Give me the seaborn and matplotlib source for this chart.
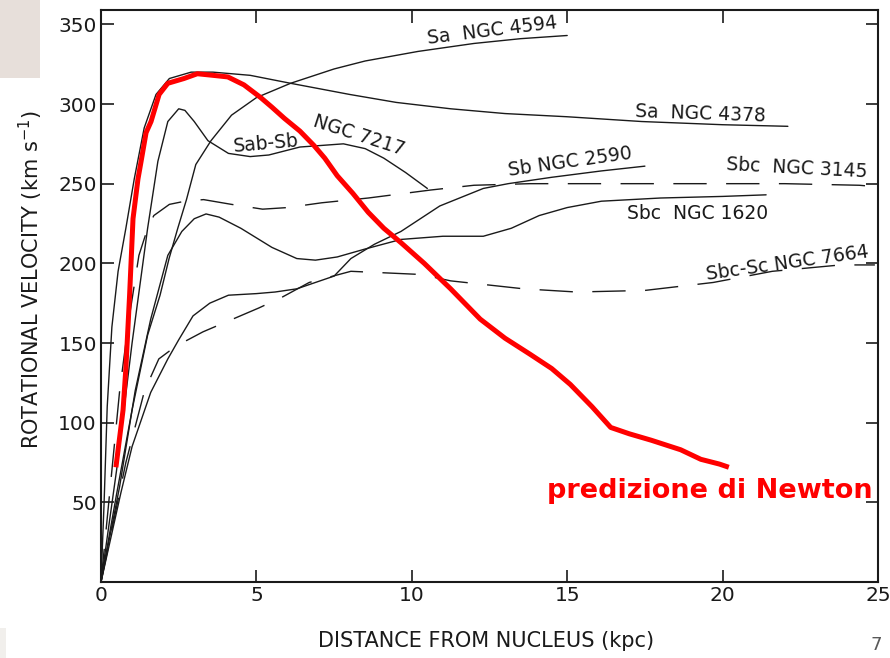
import matplotlib
matplotlib.use("Agg")
import matplotlib.pyplot as plt
import matplotlib.patches as mpatches
import seaborn as sns
import numpy as np

# ---------------- data ----------------
x_4594 = [0, 0.5, 1.0, 1.5, 1.9, 2.19, 2.47, 2.75, 3.05, 3.54, 4.2, 5.0, 6.1, 7.5, 8.5, 10.2, 12.0, 13.5, 15.0]
v_4594 = [0, 55, 108, 155, 180, 203, 222, 240, 262, 277, 293, 304, 313, 322, 327, 333, 338, 341, 343]

x_4378 = [0, 0.1, 0.2, 0.35, 0.55, 0.8, 1.07, 1.39, 1.77, 2.2, 2.9, 3.6, 4.8, 6.1, 8.0, 9.5, 11.25, 13.0, 15.0, 17.4, 20.0, 22.1]
v_4378 = [0, 50, 110, 160, 195, 222, 253, 285, 306, 316, 320, 320, 318, 313, 306, 301, 297, 294, 292, 289, 287, 286]

x_7217 = [0, 0.5, 1.0, 1.5, 1.83, 2.15, 2.5, 2.7, 3.0, 3.44, 4.1, 4.8, 5.4, 6.4, 7.8, 8.5, 9.1, 9.8, 10.5]
v_7217 = [0, 70, 150, 222, 264, 289, 297, 296, 289, 277, 269, 267, 268, 273, 275, 272, 266, 257, 247]

x_2590 = [0, 0.64, 1.0, 1.6, 2.15, 2.5, 2.96, 3.5, 4.1, 5.0, 5.6, 6.3, 6.9, 7.5, 8.04, 8.8, 9.65, 10.9, 12.3, 13.1, 14.5, 16.1, 17.5]
v_2590 = [0, 56, 85, 119, 140, 152, 167, 175, 180, 181, 182, 184, 188, 192, 203, 212, 220, 236, 247, 250, 254, 258, 261]

x_3145 = [0, 0.3, 0.6, 0.9, 1.22, 1.5, 1.7, 2.2, 2.7, 3.3, 4.2, 5.2, 6.0, 7.1, 8.6, 10.6, 12.0, 13.8, 16.0, 19.3, 22.0, 24.4, 25.0]
v_3145 = [0, 60, 120, 165, 205, 222, 230, 237, 239, 240, 237, 234, 235, 238, 241, 246, 249, 250, 250, 250, 250, 249, 248]

x_1620 = [0, 0.6, 1.1, 1.6, 2.15, 2.6, 3.0, 3.38, 3.8, 4.5, 5.5, 6.3, 6.9, 7.6, 8.5, 9.65, 11.0, 12.3, 13.2, 14.1, 15.0, 16.1, 18.0, 20.0, 21.4]
v_1620 = [0, 60, 120, 165, 205, 220, 228, 231, 229, 222, 210, 203, 202, 204, 209, 215, 217, 217, 222, 230, 235, 239, 241, 242, 243]

x_7664 = [0, 0.8, 1.4, 1.86, 2.41, 3.28, 4.24, 5.08, 5.85, 6.7, 8.04, 10.3, 11.25, 13.6, 15.3, 17.5, 19.7, 21.6, 23.8, 24.9]
v_7664 = [0, 75, 120, 140, 148, 157, 165, 172, 179, 188, 195, 193, 189, 184, 182, 183, 188, 195, 199, 199]

x_newton = [0.48, 0.71, 0.8, 0.92, 1.03, 1.19, 1.29, 1.45, 1.61, 1.87, 2.15, 2.67, 3.1, 3.6, 4.08, 4.6, 5.14, 5.5, 5.9,
            6.4, 6.85, 7.2, 7.6, 8.1, 8.6, 9.1, 9.65, 10.4, 11.25, 12.2, 13.0, 13.8, 14.5, 15.1, 15.8, 16.4, 17.0,
            17.7, 18.65, 19.3, 19.9, 20.2]
v_newton = [72, 108, 134, 180, 228, 253, 264, 282, 289, 306, 313, 316, 319, 318, 317, 312, 304, 298, 291,
            283, 274, 266, 255, 244, 232, 222, 213, 200, 184, 165, 153, 143, 134, 124, 110, 97, 93,
            89, 83, 77, 74, 72]

x_ticks = [0, 5, 10, 15, 20, 25]
y_ticks = [50, 100, 150, 200, 250, 300, 350]

solid_curves = [(x_4594, v_4594), (x_4378, v_4378), (x_7217, v_7217), (x_2590, v_2590), (x_1620, v_1620)]
dashed_curves = [(x_3145, v_3145), (x_7664, v_7664)]

# labels: (text, x, y, rotation)
curve_labels = [
    ("Sa  NGC 4594", 12.6, 346, 7),
    ("Sa  NGC 4378", 19.3, 294, -2),
    ("Sab-Sb", 5.3, 275, 5),
    ("NGC 7217", 8.3, 280, -18),
    ("Sb NGC 2590", 15.1, 264, 8),
    ("Sbc  NGC 3145", 22.4, 260, -3),
    ("Sbc  NGC 1620", 19.2, 231, 0),
    ("Sbc-Sc NGC 7664", 22.1, 200, 8),
]

# ---------------- figure ----------------
sns.set_style("ticks")
plt.rcParams["font.family"] = ["DejaVu Sans"]

fig = plt.figure(figsize=(8.9, 6.58), dpi=100)
fig.patch.set_facecolor("white")
fig.patches.append(mpatches.Rectangle((0, 1 - 78 / 658), 40 / 890, 78 / 658, transform=fig.transFigure,
                                      facecolor="#e7dfda", edgecolor="none", zorder=0))
fig.patches.append(mpatches.Rectangle((0, 0), 6 / 890, 30 / 658, transform=fig.transFigure,
                                      facecolor="#f1efec", edgecolor="none", zorder=0))

ax = fig.add_axes([101 / 890, 76 / 658, 777 / 890, 572 / 658])

for xs, vs in solid_curves:
    sns.lineplot(x=xs, y=vs, ax=ax, color="#1a1a1a", linewidth=1.0, sort=False, estimator=None)
for xs, vs in dashed_curves:
    sns.lineplot(x=xs, y=vs, ax=ax, color="#1a1a1a", linewidth=1.0, sort=False, estimator=None)
    ax.lines[-1].set_dashes([24, 14])

sns.lineplot(x=x_newton, y=v_newton, ax=ax, color="#ff0000", linewidth=3.6, sort=False, estimator=None)
ax.lines[-1].set_solid_capstyle("butt")

for txt, tx, ty, rot in curve_labels:
    ax.text(tx, ty, txt, fontsize=13.5, rotation=rot, ha="center", va="center", color="#1a1a1a")

ax.text(19.6, 57, "predizione di Newton", fontsize=19.5, fontweight="bold", color="#ff0000",
        ha="center", va="center")

ax.set_xlim(0, 25)
ax.set_ylim(0, 359)
ax.set_xticks(x_ticks)
ax.set_yticks(y_ticks)
ax.tick_params(direction="in", length=9, width=1.2, top=True, right=True, labelsize=14.5,
               colors="#1a1a1a", pad=3)
for s in ax.spines.values():
    s.set_visible(True)
    s.set_linewidth(1.5)
    s.set_color("#1a1a1a")

ax.set_xlabel("DISTANCE FROM NUCLEUS (kpc)", fontsize=15, color="#1a1a1a")
ax.set_ylabel("ROTATIONAL VELOCITY (km s$^{-1}$)", fontsize=15, color="#1a1a1a")
ax.xaxis.set_label_coords(0.495, -0.085)
ax.yaxis.set_label_coords(-0.072, 0.528)

fig.text(876 / 890, 1 - 645 / 658, "7", fontsize=13, color="#595959", ha="center", va="center")

fig.savefig("out.png", dpi=100)
